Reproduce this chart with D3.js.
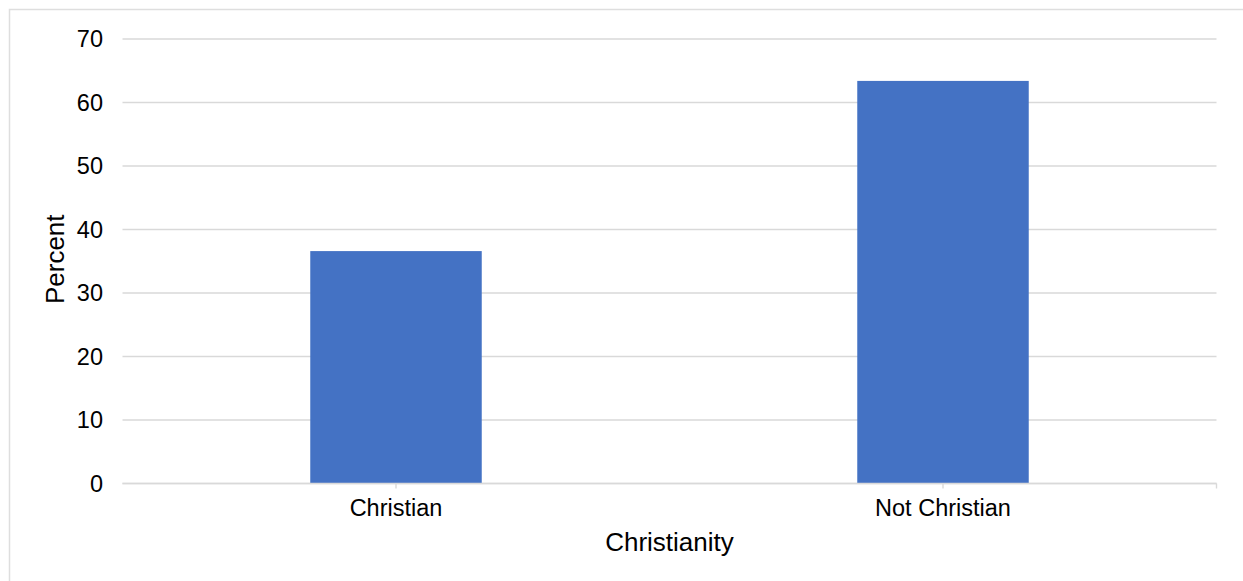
<!DOCTYPE html>
<html>
<head>
<meta charset="utf-8">
<script src="https://cdn.jsdelivr.net/npm/d3@7"></script>
<style>
  body { margin: 0; background: #fff; }
  svg text { font-family: "Liberation Sans", Arial, Helvetica, sans-serif; fill: #000; }
</style>
</head>
<body>
<div id="chart"></div>
<script>
// data
const categories = ['Christian', 'Not Christian']
const percents = [36.6, 63.4]
const yTicks = [0, 10, 20, 30, 40, 50, 60, 70]

const width = 1243
const height = 581
const margin = { top: 39, right: 26.5, bottom: 97.5, left: 122.5 }
const innerW = width - margin.left - margin.right
const innerH = height - margin.top - margin.bottom

const svg = d3.select('#chart')
  .append('svg')
  .attr('width', width)
  .attr('height', height)

// frame (only top / left edges show in the picture)
svg.append('path')
  .attr('d', 'M9.5,' + height + 'V9.5H' + width)
  .attr('fill', 'none')
  .attr('stroke', '#dedede')
  .attr('stroke-width', 1.5)

const g = svg.append('g')
  .attr('transform', 'translate(' + margin.left + ',' + margin.top + ')')

const x = d3.scaleBand()
  .domain(categories)
  .range([0, innerW])
  .padding(0)

const y = d3.scaleLinear()
  .domain([0, 70])
  .range([innerH, 0])

// gridlines
g.selectAll('.grid')
  .data(yTicks)
  .enter()
  .append('line')
  .attr('class', 'grid')
  .attr('x1', 0)
  .attr('x2', innerW)
  .attr('y1', d => y(d))
  .attr('y2', d => y(d))
  .attr('stroke', '#d9d9d9')
  .attr('stroke-width', 1.4)

// y labels
g.selectAll('.ylab')
  .data(yTicks)
  .enter()
  .append('text')
  .attr('class', 'ylab')
  .attr('x', -19.5)
  .attr('y', d => y(d))
  .attr('dy', '0.35em')
  .attr('text-anchor', 'end')
  .style('font-size', '23.5px')
  .text(d => d)

// bars
const barW = x.bandwidth() * 0.3135
g.selectAll('.bar')
  .data(percents)
  .enter()
  .append('rect')
  .attr('class', 'bar')
  .attr('x', (d, i) => x(categories[i]) + x.bandwidth() / 2 - barW / 2)
  .attr('y', d => y(d))
  .attr('width', barW)
  .attr('height', d => innerH - y(d))
  .attr('fill', '#4472c4')

// x axis line and ticks
g.append('line')
  .attr('x1', 0)
  .attr('x2', innerW)
  .attr('y1', innerH)
  .attr('y2', innerH)
  .attr('stroke', '#d9d9d9')
  .attr('stroke-width', 1.4)

const tickXs = categories.map(c => x(c) + x.bandwidth() / 2).concat([innerW])
g.selectAll('.xtick')
  .data(tickXs)
  .enter()
  .append('line')
  .attr('class', 'xtick')
  .attr('x1', d => d)
  .attr('x2', d => d)
  .attr('y1', innerH)
  .attr('y2', innerH + 5)
  .attr('stroke', '#d9d9d9')
  .attr('stroke-width', 1.4)

g.selectAll('.xlab')
  .data(categories)
  .enter()
  .append('text')
  .attr('class', 'xlab')
  .attr('x', d => x(d) + x.bandwidth() / 2)
  .attr('y', innerH + 32)
  .attr('text-anchor', 'middle')
  .style('font-size', '23.5px')
  .text(d => d)

// axis titles
g.append('text')
  .attr('x', innerW / 2)
  .attr('y', innerH + 67)
  .attr('text-anchor', 'middle')
  .style('font-size', '26px')
  .text('Christianity')

svg.append('text')
  .attr('transform', 'translate(64,' + (margin.top + innerH / 2 - 2) + ') rotate(-90)')
  .attr('text-anchor', 'middle')
  .style('font-size', '26px')
  .text('Percent')
</script>
</body>
</html>
